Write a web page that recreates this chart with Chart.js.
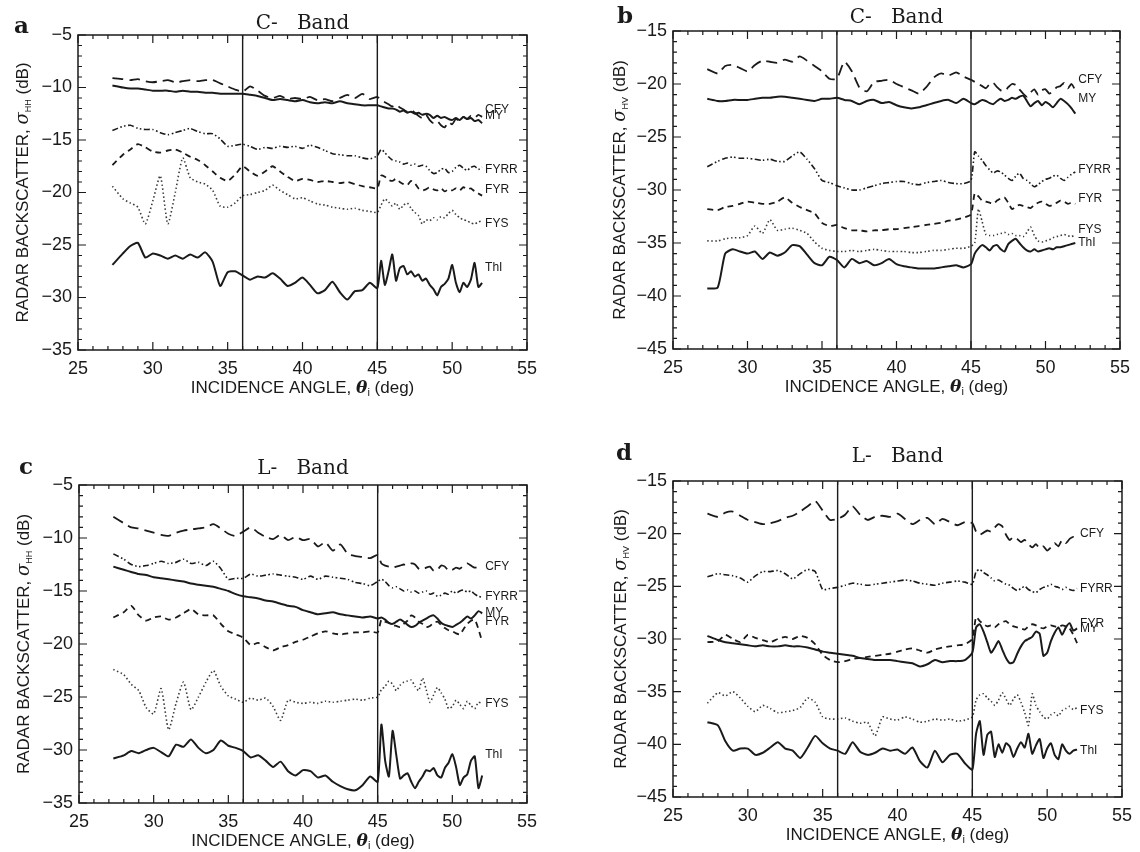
<!DOCTYPE html>
<html>
<head>
<meta charset="utf-8">
<script src="https://cdn.jsdelivr.net/npm/chart.js@4.4.1/dist/chart.umd.min.js"></script>
<style>
html,body{margin:0;padding:0;background:#fff;}
#wrap{position:relative;width:1140px;height:852px;overflow:hidden;background:#fff;}
canvas{position:absolute;left:0;top:0;}
</style>
</head>
<body>
<div id="wrap">
<canvas id="ca" width="1140" height="852"></canvas>
<canvas id="cb" width="1140" height="852"></canvas>
<canvas id="cc" width="1140" height="852"></canvas>
<canvas id="cd" width="1140" height="852"></canvas>
</div>
<script>
// ---------- data ----------
const angles = [27.3,28,28.5,29,29.5,30,30.5,31,31.5,32,32.5,33,33.5,34,34.5,35,35.5,36,36.5,37,37.5,38,38.5,39,39.5,40,40.5,41,41.5,42,42.5,43,43.5,44,44.5,45,
45.25,45.5,45.75,46,46.25,46.5,46.75,47,47.25,47.5,47.75,48,48.25,48.5,48.75,49,49.25,49.5,49.75,50,50.25,50.5,50.75,51,51.25,51.5,51.75,52];

const seriesNames = ['CFY','MY','FYRR','FYR','FYS','ThI'];
const xTicks = [25,30,35,40,45,50,55];
const dividers = [36,45];

// panel a : C-band, HH
const aCFY = [-9.1,-9.2,-9.3,-9.2,-9.4,-9.5,-9.4,-9.3,-9.5,-9.4,-9.3,-9.4,-9.3,-9.3,-9.6,-9.9,-10.2,-10.4,-9.9,-10.3,-10.8,-11.0,-10.8,-11.1,-11.0,-11.1,-10.9,-11.2,-11.1,-11.3,-11.0,-10.7,-11.0,-10.6,-11.1,-10.9,
-11.2,-11.4,-11.6,-11.8,-11.6,-11.9,-12.1,-12.3,-12.1,-12.4,-12.7,-12.9,-12.6,-13.1,-13.4,-13.2,-13.6,-13.8,-13.3,-13.5,-13.0,-13.2,-12.8,-13.0,-12.7,-12.9,-12.6,-12.8];
const aMY = [-9.8,-10.0,-10.1,-10.1,-10.2,-10.3,-10.3,-10.3,-10.4,-10.3,-10.4,-10.4,-10.5,-10.5,-10.6,-10.6,-10.6,-10.6,-10.7,-10.8,-11.0,-11.2,-11.1,-11.2,-11.3,-11.2,-11.4,-11.5,-11.4,-11.5,-11.3,-11.5,-11.6,-11.7,-11.7,-11.7,
-11.8,-11.9,-12.0,-12.0,-12.1,-12.3,-12.2,-12.4,-12.3,-12.5,-12.4,-12.6,-12.5,-12.6,-12.9,-12.7,-12.9,-12.8,-13.0,-13.1,-12.9,-13.1,-12.8,-13.0,-12.9,-13.2,-13.1,-13.4];
const aFYRR = [-14.1,-13.7,-13.6,-13.9,-14.0,-14.0,-14.3,-14.5,-14.3,-14.1,-13.9,-14.2,-14.4,-14.4,-14.9,-15.6,-15.5,-15.4,-15.6,-15.9,-15.7,-15.8,-15.6,-15.7,-15.6,-15.8,-15.5,-15.7,-16.0,-16.3,-16.4,-16.5,-16.5,-16.7,-16.8,-16.5,
-15.9,-16.2,-16.6,-16.9,-17.0,-17.1,-17.3,-17.2,-17.4,-17.3,-17.5,-17.4,-17.5,-17.9,-18.2,-18.1,-17.8,-17.7,-18.1,-18.0,-17.6,-17.4,-17.7,-17.9,-17.6,-17.5,-17.8,-17.6];
const aFYR = [-17.4,-16.4,-15.9,-15.4,-15.7,-16.1,-16.2,-16.0,-15.9,-16.2,-16.6,-16.9,-17.4,-18.0,-18.6,-18.9,-18.3,-17.5,-18.0,-18.4,-18.0,-17.5,-18.0,-18.5,-18.9,-18.7,-18.8,-19.0,-18.9,-19.0,-19.1,-19.0,-19.2,-19.4,-19.5,-19.6,
-18.4,-18.5,-18.8,-18.9,-18.7,-19.0,-19.2,-19.3,-18.9,-19.1,-19.6,-19.8,-19.7,-19.5,-19.7,-19.8,-19.6,-19.9,-19.7,-19.8,-19.6,-19.8,-19.5,-19.7,-19.6,-19.9,-20.1,-20.3];
const aFYS = [-19.4,-20.6,-21.0,-21.4,-23.0,-20.8,-18.4,-23.0,-20.0,-16.7,-18.6,-19.0,-19.2,-19.8,-21.3,-21.4,-21.0,-20.3,-20.2,-20.0,-19.8,-19.3,-19.8,-20.2,-20.6,-20.5,-20.8,-21.1,-21.2,-21.4,-21.5,-21.6,-21.5,-21.7,-21.8,-21.9,
-21.2,-20.6,-20.9,-21.3,-21.0,-21.6,-21.2,-21.0,-21.5,-21.9,-22.2,-23.0,-22.6,-22.7,-22.4,-22.6,-22.3,-22.4,-22.0,-21.7,-22.1,-22.4,-22.6,-22.7,-22.9,-23.0,-22.8,-22.7];
const aThI = [-26.9,-25.8,-25.1,-24.8,-26.2,-25.8,-26.0,-26.3,-26.0,-26.3,-25.9,-26.2,-25.7,-26.6,-28.9,-27.6,-27.5,-27.9,-28.3,-28.0,-28.1,-27.7,-28.2,-28.9,-28.6,-28.1,-28.8,-29.6,-29.3,-28.5,-29.5,-30.2,-29.4,-29.3,-28.6,-29.1,
-26.5,-28.8,-27.5,-25.9,-28.4,-27.2,-27.0,-27.8,-27.5,-28.0,-27.8,-28.4,-28.2,-28.8,-29.2,-29.8,-29.0,-28.7,-28.2,-26.9,-28.6,-29.5,-28.6,-29.0,-28.3,-26.7,-29.0,-28.6];

// panel b : C-band, HV
const bCFY = [-18.6,-19.0,-18.3,-18.2,-18.5,-18.8,-18.2,-17.8,-17.9,-18.0,-17.7,-17.9,-17.4,-17.8,-18.3,-18.8,-19.5,-19.5,-17.9,-18.8,-20.3,-20.7,-19.8,-19.7,-19.6,-20.0,-20.3,-20.6,-20.9,-20.3,-19.4,-19.0,-19.2,-18.9,-19.3,-19.6,
-19.8,-20.0,-20.2,-20.4,-20.0,-19.9,-20.3,-20.6,-20.7,-20.3,-20.0,-20.1,-20.5,-20.9,-21.2,-20.8,-20.5,-21.0,-20.6,-20.5,-20.9,-20.7,-20.3,-20.2,-19.9,-20.4,-20.0,-20.6];
const bMY = [-21.4,-21.6,-21.6,-21.5,-21.5,-21.5,-21.4,-21.3,-21.3,-21.2,-21.2,-21.3,-21.4,-21.5,-21.6,-21.4,-21.4,-21.3,-21.5,-21.6,-21.9,-21.6,-21.5,-21.8,-21.7,-22.0,-22.2,-22.3,-22.2,-22.0,-21.8,-21.6,-21.5,-21.8,-21.4,-21.8,
-21.9,-21.7,-21.5,-21.6,-21.8,-21.9,-21.6,-21.4,-21.6,-21.5,-21.3,-21.4,-21.2,-21.1,-21.6,-22.1,-21.8,-21.6,-22.0,-21.7,-21.9,-22.2,-21.8,-21.4,-21.6,-21.9,-22.3,-22.8];
const bFYRR = [-27.8,-27.3,-27.0,-26.9,-27.0,-27.0,-27.1,-27.2,-27.1,-27.3,-27.3,-26.8,-26.4,-27.1,-28.0,-29.1,-29.3,-29.6,-29.8,-30.0,-30.0,-29.8,-29.6,-29.4,-29.3,-29.2,-29.2,-29.4,-29.5,-29.3,-29.2,-29.1,-29.3,-29.4,-29.4,-29.1,
-26.4,-26.8,-27.2,-27.7,-28.1,-28.4,-28.2,-28.3,-28.6,-28.9,-29.1,-28.7,-28.4,-28.9,-29.1,-29.4,-29.7,-29.5,-29.2,-29.0,-28.9,-28.7,-28.6,-28.9,-29.1,-28.8,-28.5,-28.3];
const bFYR = [-31.8,-31.9,-31.6,-31.5,-31.3,-31.1,-31.2,-31.3,-31.3,-31.1,-30.7,-31.2,-31.6,-31.9,-32.2,-33.1,-33.4,-33.3,-33.6,-33.8,-33.8,-33.9,-33.8,-33.8,-33.7,-33.7,-33.6,-33.5,-33.4,-33.3,-33.2,-33.1,-32.9,-32.8,-32.6,-32.3,
-30.3,-30.6,-31.0,-31.1,-31.2,-31.3,-31.0,-30.8,-30.7,-31.2,-31.8,-31.6,-31.4,-31.5,-31.6,-31.7,-31.4,-31.2,-31.1,-31.3,-31.5,-31.4,-31.2,-31.0,-31.1,-31.3,-31.2,-31.3];
const bFYS = [-34.8,-34.8,-34.6,-34.5,-34.5,-34.3,-33.4,-34.1,-32.8,-33.8,-33.7,-33.6,-33.8,-34.1,-34.9,-35.5,-35.7,-35.8,-35.8,-35.7,-35.8,-35.7,-35.6,-35.7,-35.8,-35.8,-35.8,-35.9,-35.9,-35.8,-35.7,-35.7,-35.6,-35.5,-35.5,-35.3,
-35.0,-31.8,-33.0,-34.2,-34.3,-34.3,-34.2,-34.1,-34.0,-34.2,-34.1,-34.3,-34.3,-34.4,-34.0,-33.5,-34.3,-34.8,-34.9,-34.8,-34.7,-34.5,-34.4,-34.3,-34.2,-34.3,-34.4,-34.2];
const bThI = [-39.3,-39.2,-36.0,-35.6,-35.8,-36.0,-35.8,-36.5,-35.9,-36.2,-35.9,-35.2,-35.3,-36.1,-36.9,-37.1,-36.3,-36.6,-37.3,-36.5,-36.9,-36.7,-37.1,-36.9,-36.5,-37.0,-37.2,-37.3,-37.4,-37.4,-37.4,-37.3,-37.2,-37.1,-37.3,-37.0,
-36.0,-35.5,-35.2,-35.4,-35.7,-35.3,-35.2,-35.6,-35.8,-35.1,-34.8,-34.6,-35.0,-35.4,-35.7,-35.8,-35.6,-35.8,-35.7,-35.6,-35.5,-35.6,-35.4,-35.4,-35.3,-35.2,-35.1,-35.0];

// panel c : L-band, HH
const cCFY = [-8.0,-8.6,-9.0,-9.1,-9.3,-9.5,-9.7,-9.8,-9.5,-9.3,-9.2,-9.1,-9.0,-8.7,-9.1,-9.6,-9.8,-9.4,-9.0,-9.5,-9.9,-10.1,-9.7,-10.2,-9.9,-10.2,-10.1,-10.8,-10.4,-11.2,-10.6,-11.5,-11.7,-11.8,-11.9,-11.6,
-12.4,-12.6,-12.7,-12.8,-12.7,-12.6,-12.5,-12.6,-12.4,-12.5,-12.9,-13.0,-12.8,-12.7,-13.1,-13.0,-12.6,-12.7,-13.1,-13.0,-12.8,-12.9,-12.6,-12.4,-12.6,-12.8,-12.7,-12.6];
const cMY = [-12.7,-13.0,-13.2,-13.4,-13.5,-13.7,-13.8,-13.9,-14.0,-14.1,-14.3,-14.4,-14.5,-14.6,-14.8,-15.0,-15.3,-15.5,-15.6,-15.7,-15.9,-16.0,-16.2,-16.4,-16.5,-16.8,-17.0,-17.2,-17.1,-17.0,-17.2,-17.3,-17.4,-17.5,-17.4,-17.6,
-17.5,-17.7,-18.0,-18.1,-17.9,-17.7,-17.9,-18.2,-18.4,-18.3,-18.0,-17.8,-17.6,-17.4,-17.3,-17.6,-18.0,-18.2,-18.3,-18.4,-18.2,-18.0,-17.7,-17.4,-17.6,-17.3,-16.9,-17.1];
const cFYRR = [-11.5,-12.0,-12.5,-12.7,-12.6,-12.4,-12.2,-12.4,-12.3,-12.0,-12.4,-12.3,-12.6,-12.2,-12.9,-13.9,-13.8,-13.8,-13.4,-13.6,-13.5,-13.4,-13.5,-13.6,-13.7,-13.9,-13.6,-13.9,-13.6,-13.7,-13.8,-13.9,-14.2,-14.3,-14.5,-14.1,
-13.9,-14.1,-14.5,-14.7,-14.6,-14.8,-15.0,-14.9,-15.1,-15.0,-15.2,-15.1,-15.0,-15.3,-15.2,-15.5,-15.4,-15.2,-15.3,-15.0,-15.2,-15.0,-14.9,-15.1,-15.0,-15.3,-15.5,-15.6];
const cFYR = [-17.5,-17.0,-16.4,-17.3,-17.8,-17.5,-17.4,-17.7,-17.5,-17.1,-16.7,-17.2,-17.3,-17.3,-18.1,-18.8,-19.1,-19.4,-20.1,-19.9,-20.3,-20.6,-20.3,-20.1,-19.8,-19.6,-19.3,-19.0,-18.8,-19.0,-19.1,-19.0,-18.9,-18.9,-18.8,-18.9,
-17.7,-17.9,-18.0,-18.2,-18.3,-18.4,-18.1,-17.8,-17.3,-17.5,-17.9,-18.1,-18.4,-18.3,-18.0,-17.9,-18.2,-18.5,-18.7,-18.8,-19.0,-19.1,-18.6,-18.1,-17.8,-17.7,-18.6,-19.8];
const cFYS = [-22.4,-22.9,-23.8,-24.4,-26.0,-26.6,-24.2,-28.1,-25.6,-23.6,-26.2,-25.0,-23.6,-22.5,-24.0,-24.9,-25.2,-25.5,-25.1,-25.3,-25.1,-25.9,-27.2,-25.3,-25.5,-25.6,-25.5,-25.6,-25.4,-25.5,-25.4,-25.3,-25.2,-25.3,-25.1,-25.0,
-24.3,-24.0,-23.5,-23.8,-24.4,-23.9,-23.6,-23.5,-23.4,-24.0,-24.4,-23.2,-24.3,-25.5,-24.8,-24.1,-24.6,-25.2,-26.1,-25.9,-25.3,-25.7,-26.1,-25.4,-25.8,-26.1,-25.5,-25.6];
const cThI = [-30.8,-30.5,-30.1,-30.3,-30.0,-29.8,-30.2,-30.6,-29.5,-29.7,-29.0,-29.8,-30.3,-30.0,-29.1,-29.6,-29.8,-30.1,-30.7,-30.5,-31.0,-31.6,-31.1,-32.0,-32.4,-31.9,-32.0,-32.6,-32.4,-33.0,-33.4,-33.7,-33.8,-33.3,-32.5,-33.0,
-27.6,-31.0,-32.5,-28.2,-30.5,-32.7,-32.4,-32.2,-33.0,-33.6,-33.0,-32.5,-31.9,-32.0,-31.7,-32.4,-32.6,-31.7,-31.2,-30.4,-31.6,-33.3,-32.6,-32.3,-31.0,-30.6,-33.6,-32.4];

// panel d : L-band, HV
const dCFY = [-18.1,-18.4,-18.0,-17.9,-18.3,-18.7,-18.9,-19.1,-19.0,-18.8,-18.5,-18.3,-17.9,-17.4,-16.9,-17.8,-18.7,-18.6,-18.2,-17.4,-18.2,-18.7,-18.4,-18.3,-18.4,-18.1,-18.6,-19.1,-18.7,-18.5,-19.1,-18.6,-18.9,-19.2,-18.9,-19.0,
-19.8,-20.1,-19.9,-19.7,-19.8,-19.4,-19.1,-19.3,-20.1,-20.6,-20.3,-20.5,-20.8,-20.6,-21.0,-21.3,-21.0,-21.4,-21.2,-21.6,-21.3,-20.9,-21.2,-20.6,-20.9,-20.5,-20.3,-20.4];
const dMY = [-29.7,-30.1,-30.3,-30.4,-30.5,-30.6,-30.7,-30.6,-30.7,-30.7,-30.6,-30.7,-30.7,-30.8,-31.0,-31.2,-31.3,-31.4,-31.5,-31.6,-31.8,-31.9,-32.0,-32.0,-32.0,-32.1,-32.2,-32.3,-32.6,-32.4,-32.0,-32.2,-32.1,-32.1,-32.0,-31.3,
-28.9,-28.6,-29.3,-30.3,-31.3,-30.8,-30.2,-31.0,-31.8,-32.3,-32.2,-31.4,-30.7,-30.2,-30.0,-29.8,-29.3,-29.5,-31.6,-31.3,-30.2,-29.4,-28.9,-29.6,-28.9,-28.5,-29.2,-29.0];
const dFYRR = [-24.1,-23.8,-23.9,-24.0,-24.2,-24.6,-24.0,-23.6,-23.6,-23.5,-23.8,-24.3,-23.8,-23.4,-23.6,-25.3,-25.2,-25.1,-24.9,-24.7,-24.8,-24.9,-24.8,-24.7,-24.6,-24.5,-24.4,-24.5,-24.7,-24.8,-24.9,-24.7,-24.6,-24.5,-24.6,-24.8,
-23.6,-23.4,-23.7,-23.9,-24.2,-24.5,-24.4,-24.6,-24.8,-24.9,-25.2,-25.4,-25.2,-25.0,-25.3,-25.5,-25.6,-25.3,-25.1,-25.0,-24.8,-25.0,-25.1,-25.3,-25.1,-25.3,-25.4,-25.2];
const dFYR = [-30.3,-30.2,-29.6,-30.0,-30.3,-29.6,-29.9,-30.1,-30.3,-30.0,-29.8,-30.0,-29.7,-29.9,-30.5,-31.5,-32.0,-32.2,-32.1,-31.9,-31.8,-31.7,-31.6,-31.5,-31.4,-31.2,-31.0,-30.9,-31.1,-31.3,-31.0,-30.8,-30.7,-30.6,-30.5,-30.0,
-27.9,-28.3,-28.6,-28.8,-28.7,-28.9,-28.6,-28.4,-28.3,-28.6,-28.8,-28.9,-29.0,-29.1,-28.8,-28.6,-28.7,-28.9,-29.0,-28.8,-28.7,-28.8,-28.9,-28.7,-28.8,-29.0,-29.6,-30.4];
const dFYS = [-36.1,-35.1,-35.4,-35.0,-35.6,-36.4,-36.9,-36.3,-36.6,-37.0,-36.9,-36.8,-36.5,-35.6,-36.0,-37.4,-37.6,-37.6,-37.5,-37.8,-38.0,-37.9,-39.2,-37.4,-37.6,-37.7,-37.4,-37.6,-37.9,-37.8,-37.6,-37.7,-37.6,-37.8,-37.7,-37.4,
-35.8,-35.3,-35.2,-35.6,-35.9,-36.3,-35.8,-35.1,-35.7,-36.3,-35.7,-35.3,-36.0,-37.0,-38.2,-35.2,-36.3,-36.9,-37.4,-37.6,-37.2,-37.0,-37.3,-36.8,-36.6,-36.4,-36.7,-36.5];
const dThI = [-37.9,-38.2,-39.7,-40.6,-40.4,-40.4,-41.0,-40.8,-40.3,-39.8,-40.4,-40.6,-41.3,-40.3,-39.2,-39.9,-40.4,-40.6,-40.9,-39.8,-40.7,-41.0,-40.8,-40.4,-40.6,-40.5,-40.9,-40.3,-41.6,-42.2,-40.6,-41.7,-41.0,-40.9,-41.8,-42.4,
-39.0,-37.8,-41.0,-39.1,-38.8,-41.2,-40.0,-40.8,-39.9,-40.2,-41.2,-40.4,-39.8,-40.3,-39.0,-40.9,-40.1,-39.5,-41.3,-40.4,-39.9,-41.0,-41.4,-40.0,-40.6,-40.9,-40.6,-40.5];

// curve-label anchor values (dB), order = seriesNames
const aLabelY = [-12.1,-12.7,-17.8,-19.7,-23.0,-27.2];
const bLabelY = [-19.6,-21.4,-28.1,-30.8,-33.7,-35.0];
const cLabelY = [-12.7,-17.0,-15.5,-17.9,-25.6,-30.4];
const dLabelY = [-20.0,-29.0,-25.2,-28.5,-36.8,-40.6];

// ---------- styling ----------
const INK = '#1a1a1a';
const W = 1140, H = 852;
const styles = {
  CFY:  {w:1.8, dash:[11,6]},
  MY:   {w:2.0, dash:[]},
  FYRR: {w:1.6, dash:[6,2.5,1.5,2.5,1.5,2.5]},
  FYR:  {w:1.8, dash:[6,4.5]},
  FYS:  {w:1.6, dash:[1.5,2.5], color:'#3a3a3a'},
  ThI:  {w:2.0, dash:[]}
};

const panels = [
  {id:'ca', letter:'a', band:'C-   Band', pol:'HH', yMin:-35, yMax:-5, box:{l:78,t:35,r:527,b:350},
   titleBase:29, letterAt:[14,33], yTitleX:22, values:[aCFY,aMY,aFYRR,aFYR,aFYS,aThI], labelY:aLabelY},
  {id:'cb', letter:'b', band:'C-   Band', pol:'HV', yMin:-45, yMax:-15, box:{l:673,t:31,r:1120,b:349},
   titleBase:23, letterAt:[617,23], yTitleX:619, values:[bCFY,bMY,bFYRR,bFYR,bFYS,bThI], labelY:bLabelY},
  {id:'cc', letter:'c', band:'L-   Band', pol:'HH', yMin:-35, yMax:-5, box:{l:79,t:485,r:527,b:803},
   titleBase:474, letterAt:[19,474], yTitleX:23, values:[cCFY,cMY,cFYRR,cFYR,cFYS,cThI], labelY:cLabelY},
  {id:'cd', letter:'d', band:'L-   Band', pol:'HV', yMin:-45, yMax:-15, box:{l:673,t:481,r:1122,b:797},
   titleBase:462, letterAt:[616,460], yTitleX:620, values:[dCFY,dMY,dFYRR,dFYR,dFYS,dThI], labelY:dLabelY}
];

function drawRich(ctx, parts, cx, cy, rot) {
  ctx.save();
  ctx.translate(cx, cy);
  if (rot) ctx.rotate(rot);
  let w = 0;
  for (const p of parts) { ctx.font = p.f; w += ctx.measureText(p.t).width; }
  let xx = -w / 2;
  ctx.textAlign = 'left';
  ctx.textBaseline = 'alphabetic';
  for (const p of parts) {
    ctx.font = p.f;
    ctx.fillText(p.t, xx, 6 + (p.dy || 0));
    xx += ctx.measureText(p.t).width;
  }
  ctx.restore();
}

function makeDeco(p) {
  return {
    id: 'deco_' + p.id,
    afterDraw(chart) {
      const ctx = chart.ctx;
      const ca = chart.chartArea;
      const xs = chart.scales.x, ys = chart.scales.y;
      ctx.save();
      ctx.strokeStyle = INK;
      ctx.fillStyle = INK;
      ctx.lineWidth = 1.5;
      ctx.setLineDash([]);
      ctx.strokeRect(ca.left, ca.top, ca.right - ca.left, ca.bottom - ca.top);
      // divider lines
      ctx.lineWidth = 1.4;
      for (const v of dividers) {
        const px = xs.getPixelForValue(v);
        ctx.beginPath(); ctx.moveTo(px, ca.top); ctx.lineTo(px, ca.bottom); ctx.stroke();
      }
      // inward ticks
      ctx.lineWidth = 1.2;
      ctx.beginPath();
      for (let v = xs.min; v <= xs.max; v += 1) {
        const px = xs.getPixelForValue(v);
        const L = (v % 5 === 0) ? 8 : 4;
        ctx.moveTo(px, ca.bottom); ctx.lineTo(px, ca.bottom - L);
        ctx.moveTo(px, ca.top); ctx.lineTo(px, ca.top + L);
      }
      for (let v = ys.min; v <= ys.max; v += 1) {
        const py = ys.getPixelForValue(v);
        const L = (v % 5 === 0) ? 8 : 4;
        ctx.moveTo(ca.left, py); ctx.lineTo(ca.left + L, py);
        ctx.moveTo(ca.right, py); ctx.lineTo(ca.right - L, py);
      }
      ctx.stroke();
      // curve labels
      ctx.font = '12px "Liberation Sans", Arial, sans-serif';
      ctx.textAlign = 'left';
      ctx.textBaseline = 'middle';
      seriesNames.forEach((n, i) => {
        ctx.fillText(n, xs.getPixelForValue(52.2), ys.getPixelForValue(p.labelY[i]));
      });
      // panel title
      const cx = (ca.left + ca.right) / 2;
      ctx.font = '20px "DejaVu Serif", serif';
      ctx.textAlign = 'center';
      ctx.textBaseline = 'alphabetic';
      ctx.fillText(p.band, cx, p.titleBase);
      // panel letter
      ctx.font = 'bold 23px "DejaVu Serif", serif';
      ctx.textAlign = 'left';
      ctx.fillText(p.letter, p.letterAt[0], p.letterAt[1]);
      // x-axis title
      const sans = '"Liberation Sans", Arial, sans-serif';
      drawRich(ctx, [
        {t:'INCIDENCE ANGLE, ', f:'17px ' + sans},
        {t:'\u03B8', f:'bold italic 17px "DejaVu Serif", serif'},
        {t:'i', f:'11px ' + sans, dy:3},
        {t:' (deg)', f:'17px ' + sans}
      ], cx, ca.bottom + 37, 0);
      // y-axis title
      drawRich(ctx, [
        {t:'RADAR BACKSCATTER, ', f:'17px ' + sans},
        {t:'\u03C3', f:'italic 18px "DejaVu Serif", serif'},
        {t:p.pol, f:'9px ' + sans, dy:3},
        {t:' (dB)', f:'17px ' + sans}
      ], p.yTitleX, (ca.top + ca.bottom) / 2, -Math.PI / 2);
      ctx.restore();
    }
  };
}

function makeChart(p) {
  const datasets = seriesNames.map((name, i) => ({
    label: name,
    data: angles.map((a, k) => ({x: a, y: p.values[i][k]})),
    borderColor: styles[name].color || INK,
    borderWidth: styles[name].w,
    borderDash: styles[name].dash,
    pointRadius: 0,
    fill: false,
    tension: 0.2
  }));
  const tickFont = {family: '"Liberation Sans", Arial, sans-serif', size: 18};
  new Chart(document.getElementById(p.id), {
    type: 'line',
    data: {datasets},
    options: {
      responsive: false,
      animation: false,
      devicePixelRatio: 1,
      events: [],
      layout: {padding: {left: p.box.l - 40, top: p.box.t, right: W - p.box.r, bottom: H - p.box.b - 30}},
      plugins: {legend: {display: false}, tooltip: {enabled: false}},
      scales: {
        x: {
          type: 'linear', min: 25, max: 55,
          afterFit: (s) => { s.height = 30; },
          afterBuildTicks: (s) => { s.ticks = xTicks.map(v => ({value: v})); },
          grid: {display: false, drawTicks: false},
          border: {display: false},
          ticks: {color: INK, font: tickFont, padding: 8, maxRotation: 0, autoSkip: false}
        },
        y: {
          type: 'linear', min: p.yMin, max: p.yMax,
          afterFit: (s) => { s.width = 40; },
          grid: {display: false, drawTicks: false},
          border: {display: false},
          ticks: {stepSize: 5, color: INK, font: tickFont, padding: 6,
            callback: (v) => v < 0 ? '\u2212' + Math.abs(v) : String(v)}
        }
      }
    },
    plugins: [makeDeco(p)]
  });
}

panels.forEach(makeChart);
</script>
</body>
</html>
